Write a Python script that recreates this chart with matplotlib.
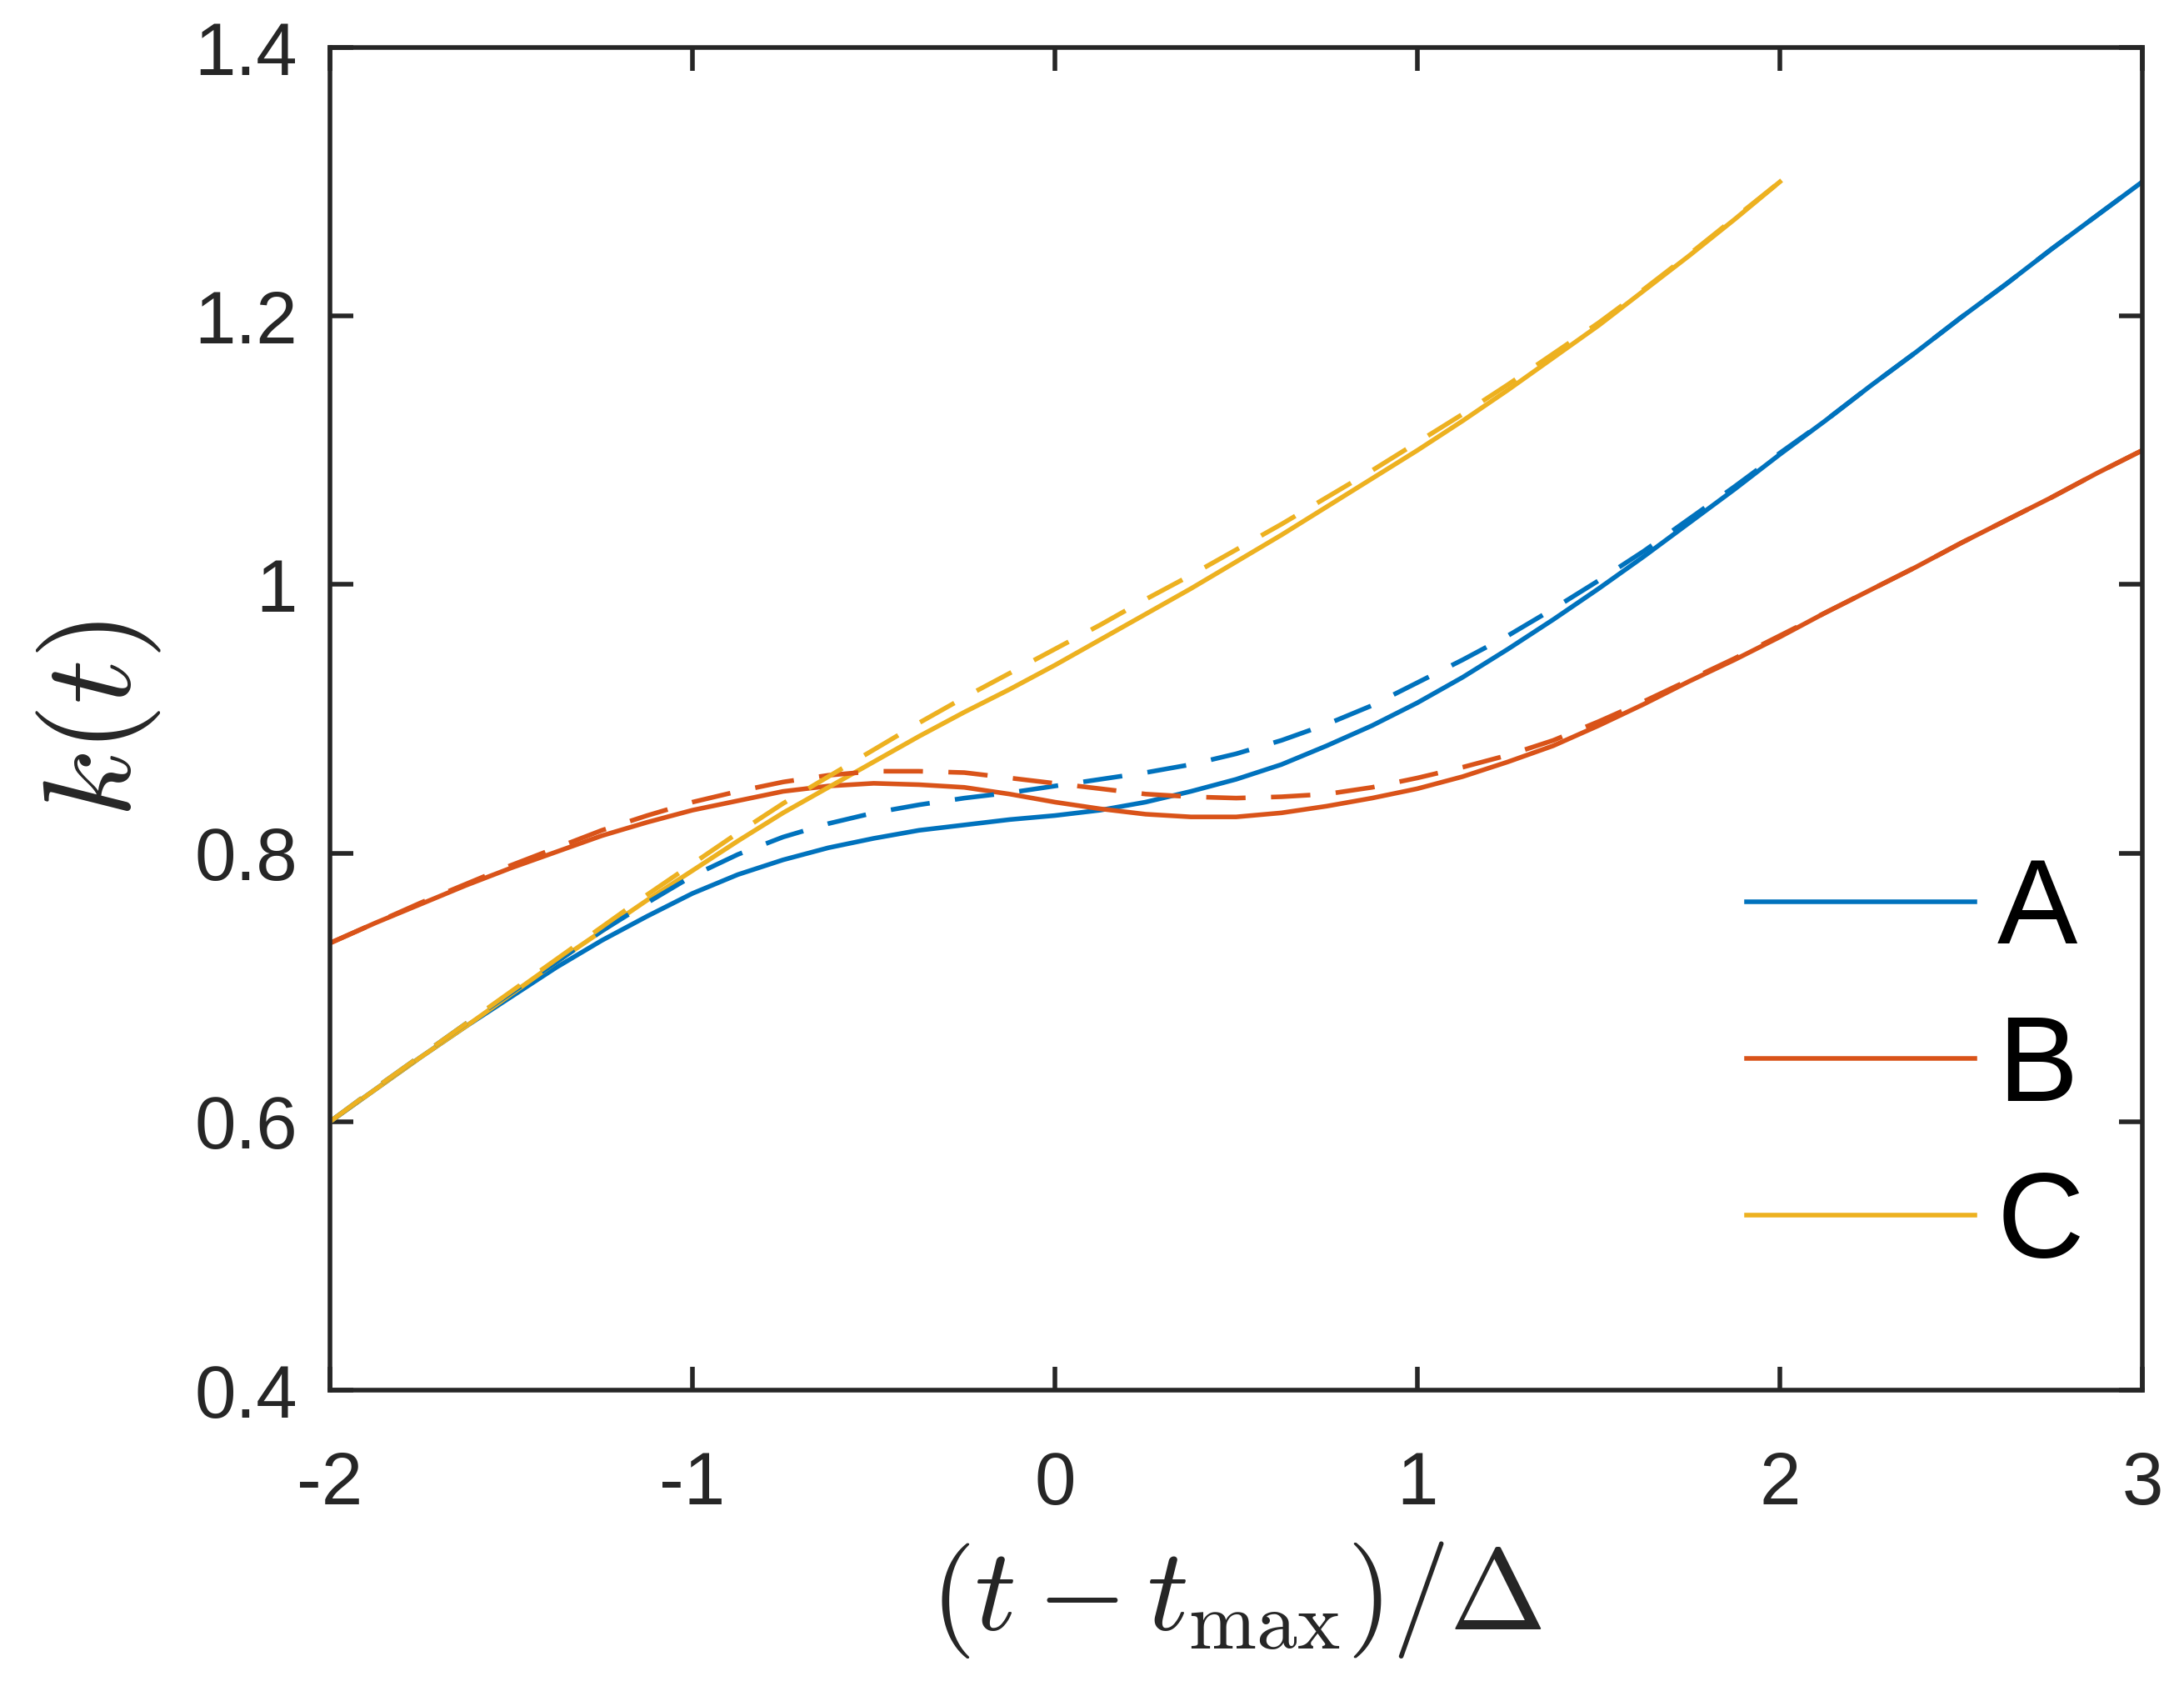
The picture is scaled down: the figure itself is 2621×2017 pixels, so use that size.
import matplotlib
matplotlib.use('Agg')
import matplotlib.pyplot as plt

# fonts: Helvetica-like for ticks, Computer Modern for the math labels
plt.rcParams['font.family'] = ['Liberation Sans', 'DejaVu Sans']
plt.rcParams['mathtext.fontset'] = 'cm'
plt.rcParams['axes.unicode_minus'] = False

x = [-2.0, -1.875, -1.75, -1.625, -1.5, -1.375, -1.25, -1.125, -1.0, -0.875,
     -0.75, -0.625, -0.5, -0.375, -0.25, -0.125, 0.0, 0.125, 0.25, 0.375,
     0.5, 0.625, 0.75, 0.875, 1.0, 1.125, 1.25, 1.375, 1.5, 1.625,
     1.75, 1.875, 2.0, 2.125, 2.25, 2.375, 2.5, 2.625, 2.75, 2.875, 3.0]

a_solid = [0.600, 0.624, 0.648, 0.671, 0.693, 0.715, 0.735, 0.753, 0.770, 0.784,
           0.795, 0.804, 0.811, 0.817, 0.821, 0.825, 0.828, 0.832, 0.838, 0.846,
           0.855, 0.866, 0.880, 0.895, 0.912, 0.931, 0.952, 0.974, 0.997, 1.021,
           1.046, 1.071, 1.097, 1.122, 1.148, 1.173, 1.199, 1.224, 1.250, 1.275, 1.300]
a_dash = [0.600, 0.625, 0.649, 0.673, 0.696, 0.719, 0.742, 0.763, 0.783, 0.799,
          0.812, 0.822, 0.830, 0.836, 0.841, 0.845, 0.850, 0.855, 0.860, 0.866,
          0.874, 0.884, 0.896, 0.910, 0.927, 0.944, 0.962, 0.982, 1.003, 1.025,
          1.049, 1.073, 1.098, 1.122, 1.148, 1.173, 1.199, 1.224, 1.250, 1.275, 1.300]

b_solid = [0.733, 0.748, 0.762, 0.776, 0.789, 0.801, 0.813, 0.823, 0.832, 0.839,
           0.846, 0.850, 0.852, 0.851, 0.849, 0.844, 0.838, 0.833, 0.829, 0.827,
           0.827, 0.830, 0.835, 0.841, 0.848, 0.857, 0.868, 0.880, 0.895, 0.911,
           0.928, 0.944, 0.961, 0.979, 0.996, 1.013, 1.031, 1.048, 1.065, 1.083, 1.100]
b_dash = [0.733, 0.748, 0.763, 0.777, 0.791, 0.804, 0.817, 0.828, 0.838, 0.846,
          0.853, 0.858, 0.861, 0.861, 0.860, 0.856, 0.852, 0.848, 0.844, 0.842,
          0.841, 0.842, 0.844, 0.849, 0.856, 0.864, 0.873, 0.884, 0.898, 0.913,
          0.929, 0.945, 0.962, 0.979, 0.996, 1.013, 1.031, 1.048, 1.065, 1.083, 1.100]

# curve C stops at x = 2
x_c = x[:33]
c_solid = [0.600, 0.624, 0.648, 0.671, 0.695, 0.719, 0.742, 0.765, 0.787, 0.809,
           0.830, 0.849, 0.868, 0.887, 0.905, 0.922, 0.940, 0.959, 0.978, 0.997,
           1.017, 1.037, 1.058, 1.079, 1.100, 1.122, 1.145, 1.169, 1.193, 1.219,
           1.245, 1.272, 1.300]
c_dash = [0.600, 0.625, 0.649, 0.673, 0.697, 0.721, 0.745, 0.769, 0.792, 0.815,
          0.837, 0.857, 0.877, 0.897, 0.916, 0.934, 0.952, 0.970, 0.989, 1.007,
          1.026, 1.045, 1.065, 1.085, 1.106, 1.127, 1.149, 1.172, 1.195, 1.220,
          1.246, 1.273, 1.300]

labels = ['A', 'B', 'C']
colors = ['#0072BD', '#D95319', '#EDB120']

yticks = [0.4, 0.6, 0.8, 1.0, 1.2, 1.4]
ytick_labels = ['0.4', '0.6', '0.8', '1', '1.2', '1.4']
xticks = [-2, -1, 0, 1, 2, 3]

fig = plt.figure(figsize=(13.105, 10.085), dpi=200)
ax = fig.add_axes([0.1511, 0.1730, 0.8298, 0.7987])

lw = 2.0
dash = (8.5, 5.5)

# solid curves first (these go in the legend)
ax.plot(x, a_solid, color=colors[0], lw=lw, label=labels[0])
ax.plot(x, b_solid, color=colors[1], lw=lw, label=labels[1])
ax.plot(x_c, c_solid, color=colors[2], lw=lw, label=labels[2])

# dashed counterparts
ax.plot(x, a_dash, color=colors[0], lw=lw, dashes=dash)
ax.plot(x, b_dash, color=colors[1], lw=lw, dashes=dash)
ax.plot(x_c, c_dash, color=colors[2], lw=lw, dashes=dash)

ax.set_xlim(-2, 3)
ax.set_ylim(0.4, 1.4)
ax.set_xticks(xticks)
ax.set_xticklabels([str(v) for v in xticks])
ax.set_yticks(yticks)
ax.set_yticklabels(ytick_labels)

for s in ax.spines.values():
    s.set_linewidth(2.0)
    s.set_color('#262626')

ax.tick_params(direction='in', top=True, right=True, length=10, width=2.0,
               labelsize=32, colors='#262626')
ax.tick_params(axis='x', pad=26)
ax.tick_params(axis='y', pad=14)

ax.set_xlabel(r'$(t-t_{\max})/\Delta$', fontsize=50, color='#262626', labelpad=8)
ax.set_ylabel(r'$k(t)$', fontsize=54, color='#262626', labelpad=14)

ax.legend(loc='center left', bbox_to_anchor=(0.7816, 0.239), frameon=False,
          fontsize=52, handlelength=1.9, handletextpad=0.185, labelspacing=0.37,
          borderpad=0, borderaxespad=0)

plt.savefig('out.png', dpi=200)
